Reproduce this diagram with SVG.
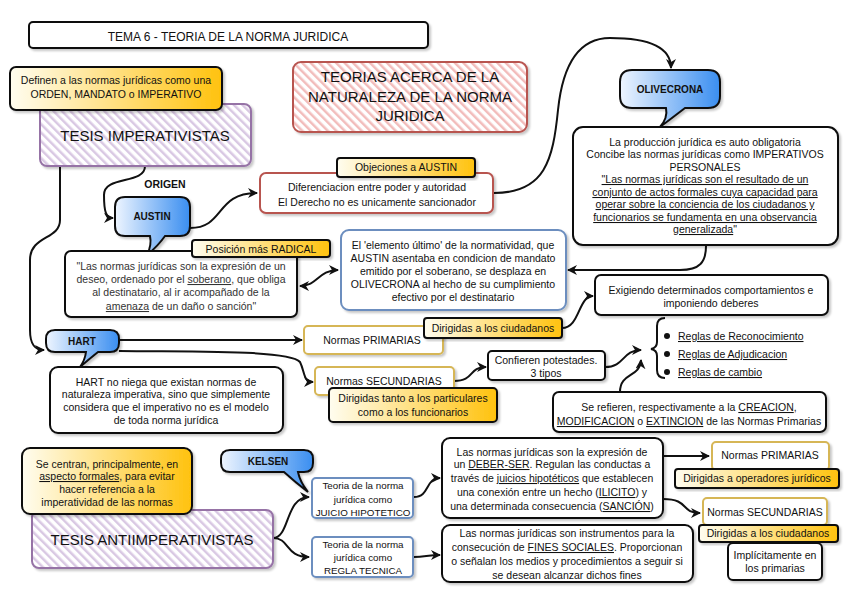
<svg xmlns="http://www.w3.org/2000/svg" width="848" height="602" viewBox="0 0 848 602">
<defs>
<style>
.t{font-family:"Liberation Sans",Arial,sans-serif;font-size:10.5px;fill:#111;text-anchor:middle}
.ts{font-family:"Liberation Sans",Arial,sans-serif;font-size:9.8px;fill:#111;text-anchor:middle}
.tb{font-family:"Liberation Sans",Arial,sans-serif;font-size:10px;font-weight:bold;fill:#111;text-anchor:middle}
.big{font-family:"Liberation Sans",Arial,sans-serif;font-size:15px;fill:#111;text-anchor:middle}
.box{fill:#fff;stroke:#111;stroke-width:2}
.gold{fill:#fff;stroke:#d6b656;stroke-width:2}
.blue{fill:#fff;stroke:#6c8ebf;stroke-width:2}
.red{fill:#fff;stroke:#b85450;stroke-width:2}
.note{fill:url(#yg);stroke:#111;stroke-width:2}
.call{fill:url(#bg);stroke:#111;stroke-width:2}
.conn{fill:none;stroke:#111;stroke-width:2}
.u{text-decoration:underline}
</style>
<linearGradient id="yg" x1="0" y1="0" x2="1" y2="0"><stop offset="0" stop-color="#fffdf0"/><stop offset="1" stop-color="#ffc20e"/></linearGradient>
<linearGradient id="bg" x1="0" y1="0" x2="1" y2="0"><stop offset="0" stop-color="#eef5ff"/><stop offset="1" stop-color="#3a8ef0"/></linearGradient>
<pattern id="hp" width="6" height="6" patternUnits="userSpaceOnUse" patternTransform="rotate(-45)"><rect width="6" height="6" fill="#fff"/><rect x="0" y="0" width="2.5" height="6" fill="#d9c8e3"/></pattern>
<pattern id="hr" width="6" height="6" patternUnits="userSpaceOnUse" patternTransform="rotate(-45)"><rect width="6" height="6" fill="#fff"/><rect x="0" y="0" width="2.5" height="6" fill="#f2bcbb"/></pattern>
<filter id="sh" x="-5%" y="-5%" width="115%" height="125%"><feDropShadow dx="2" dy="2" stdDeviation="1" flood-color="#000" flood-opacity="0.22"/></filter>
<marker id="ar" viewBox="0 0 10 10" refX="9" refY="5" markerWidth="5" markerHeight="5" orient="auto-start-reverse"><path d="M0,0 L10,5 L0,10 L3,5 z" fill="#111"/></marker>
</defs>
<rect width="848" height="602" fill="#fff"/>

<g id="connectors">
<path class="conn" d="M145 166 C145 185 104 175 104 195 C104 212 106 218 113 218" marker-end="url(#ar)"/>
<path class="conn" d="M60 166 V220 C60 240 30 235 30 260 V330 C30 345 35 350 44 350" marker-end="url(#ar)"/>
<path class="conn" d="M190 228 C225 228 215 193 257 193" marker-end="url(#ar)"/>
<path class="conn" d="M494 193 C545 193 553 160 558 110 C563 62 580 38 610 38 C645 38 671 45 671 68" marker-end="url(#ar)"/>
<path class="conn" d="M706 246 C706 262 700 270 680 270 H568" marker-end="url(#ar)"/>
<path class="conn" d="M300 286 C318 286 318 270 338 270" marker-start="url(#ar)" marker-end="url(#ar)"/>
<path class="conn" d="M119 340 H302" marker-end="url(#ar)"/>
<path class="conn" d="M119 351 C200 352 290 350 300 362 C305 372 303 382 313 382" marker-end="url(#ar)"/>
<path class="conn" d="M562 328 C580 328 578 296 593 296" marker-end="url(#ar)"/>
<path class="conn" d="M454 381 C475 381 468 367 486 367" marker-end="url(#ar)"/>
<path class="conn" d="M605 367 C625 367 622 350 641 350" marker-end="url(#ar)"/>
<path class="conn" d="M620 392 C620 372 640 378 641 360" marker-end="url(#ar)"/>
<path class="conn" d="M665 318 Q657 318 657 326 V342 Q657 348 651 349 Q657 350 657 356 V370 Q657 378 665 378"/>
<path class="conn" d="M273 538 C290 538 285 497 309 497" marker-end="url(#ar)"/>
<path class="conn" d="M273 538 C290 538 285 557 309 557" marker-end="url(#ar)"/>
<path class="conn" d="M414 497 C430 497 425 478 440 478" marker-end="url(#ar)"/>
<path class="conn" d="M414 557 C425 557 428 555 440 555" marker-end="url(#ar)"/>
<path class="conn" d="M663 456 H709" marker-end="url(#ar)"/>
<path class="conn" d="M663 499 C690 499 680 513 700 513" marker-end="url(#ar)"/>
</g>

<g id="title"><rect class="box" x="29" y="22" width="399" height="26" rx="4" filter="url(#sh)"/><text class="t" x="228" y="41" style="font-size:12px">TEMA 6 - TEORIA DE LA NORMA JURIDICA</text></g>

<g id="tesis-imp"><rect x="40" y="104" width="211" height="62" rx="7" fill="url(#hp)" stroke="#9673a6" stroke-width="2" filter="url(#sh)"/><text class="big" x="145" y="141">TESIS IMPERATIVISTAS</text></g>

<g id="definen"><rect class="note" x="10" y="67" width="212" height="43" rx="6" filter="url(#sh)"/><text class="t" x="116" y="84">Definen a las normas jurídicas como una</text><text class="t" x="116" y="98">ORDEN, MANDATO o IMPERATIVO</text></g>

<g id="teorias"><rect x="293" y="62" width="234" height="70" rx="8" fill="url(#hr)" stroke="#b85450" stroke-width="2" filter="url(#sh)"/><text class="big" x="410" y="82">TEORIAS ACERCA DE LA</text><text class="big" x="410" y="102">NATURALEZA DE LA NORMA</text><text class="big" x="410" y="121">JURIDICA</text></g>

<g id="origen"><text class="tb" x="165" y="188" style="font-size:10.5px">ORIGEN</text></g>

<g id="austin"><path class="call" d="M125 197 H180 Q190 197 190 207 V226 Q190 236 180 236 H165 Q158 246 147 255 Q152 245 150 236 H125 Q115 236 115 226 V207 Q115 197 125 197 Z" filter="url(#sh)"/><text class="tb" x="152" y="220">AUSTIN</text></g>

<g id="austin-quote"><rect class="box" x="65" y="251" width="232" height="66" rx="6" filter="url(#sh)"/>
<text class="t" x="181" y="270" style="fill:#333">"Las normas jurídicas son la expresión de un</text>
<text class="t" x="181" y="283" style="fill:#333">deseo, ordenado por el <tspan class="u">soberano</tspan>, que obliga</text>
<text class="t" x="181" y="296" style="fill:#333">al destinatario, al ir acompañado de la</text>
<text class="t" x="181" y="310" style="fill:#333"><tspan class="u">amenaza</tspan> de un daño o sanción"</text></g>

<g id="posicion"><rect class="note" x="192" y="240" width="138" height="17" rx="3" filter="url(#sh)"/><text class="t" x="261" y="253">Posición más RADICAL</text></g>

<g id="diferenciacion"><rect class="red" x="260" y="173" width="233" height="40" rx="6" filter="url(#sh)"/><text class="t" x="377" y="191">Diferenciacion entre poder y autoridad</text><text class="t" x="377" y="206">El Derecho no es unicamente sancionador</text></g>

<g id="objeciones"><rect class="note" x="337" y="158" width="138" height="19" rx="3" filter="url(#sh)"/><text class="t" x="406" y="171">Objeciones a AUSTIN</text></g>

<g id="olivecrona"><path class="call" d="M632 70 H708 Q720 70 720 82 V96 Q720 108 708 108 H685 Q672 118 660 127 Q668 118 666 108 H632 Q620 108 620 96 V82 Q620 70 632 70 Z" filter="url(#sh)"/><text class="tb" x="670" y="93">OLIVECRONA</text></g>

<g id="olivecrona-text"><rect class="box" x="573" y="127" width="265" height="118" rx="10" filter="url(#sh)"/>
<text class="t" x="705" y="146">La producción jurídica es auto obligatoria</text>
<text class="t" x="705" y="158">Concibe las normas jurídicas como IMPERATIVOS</text>
<text class="t" x="705" y="171">PERSONALES</text>
<text class="t u" x="705" y="183">"Las normas jurídicas son el resultado de un</text>
<text class="t u" x="705" y="196">conjunto de actos formales cuya capacidad para</text>
<text class="t u" x="705" y="208">operar sobre la conciencia de los ciudadanos y</text>
<text class="t u" x="705" y="221">funcionarios se fundamenta en una observancia</text>
<text class="t" x="705" y="233"><tspan class="u">generalizada</tspan>"</text></g>

<g id="elemento"><rect class="blue" x="341" y="230" width="225" height="80" rx="8" filter="url(#sh)"/>
<text class="t" x="453" y="249">El 'elemento último' de la normatividad, que</text>
<text class="t" x="453" y="262">AUSTIN asentaba en condicion de mandato</text>
<text class="t" x="453" y="275">emitido por el soberano, se desplaza en</text>
<text class="t" x="453" y="288">OLIVECRONA al hecho de su cumplimiento</text>
<text class="t" x="453" y="301">efectivo por el destinatario</text></g>

<g id="hart"><path class="call" d="M55 330 H110 Q119 330 119 339 V343 Q119 352 110 352 H98 Q88 360 80 367 Q85 360 86 352 H55 Q46 352 46 343 V339 Q46 330 55 330 Z" filter="url(#sh)"/><text class="tb" x="82" y="345">HART</text></g>

<g id="hart-text"><rect class="box" x="50" y="367" width="233" height="66" rx="8" filter="url(#sh)"/>
<text class="t" x="166" y="386">HART no niega que existan normas de</text>
<text class="t" x="166" y="398">naturaleza imperativa, sino que simplemente</text>
<text class="t" x="166" y="411">considera que el imperativo no es el modelo</text>
<text class="t" x="166" y="424">de toda norma jurídica</text></g>

<g id="primarias"><rect class="gold" x="304" y="326" width="139" height="28" rx="4" filter="url(#sh)"/><text class="t" x="372" y="344">Normas PRIMARIAS</text></g>
<g id="dir-ciudadanos"><rect class="note" x="424" y="318" width="138" height="20" rx="3" filter="url(#sh)"/><text class="t" x="493" y="332">Dirigidas a los ciudadanos</text></g>
<g id="exigiendo"><rect class="box" x="595" y="275" width="233" height="40" rx="6" filter="url(#sh)"/><text class="t" x="711" y="294">Exigiendo determinados comportamientos e</text><text class="t" x="711" y="307">imponiendo deberes</text></g>

<g id="secundarias"><rect class="gold" x="315" y="367" width="139" height="28" rx="4" filter="url(#sh)"/><text class="t" x="384" y="385">Normas SECUNDARIAS</text></g>
<g id="dir-tanto"><rect class="note" x="329" y="388" width="168" height="34" rx="4" filter="url(#sh)"/><text class="t" x="413" y="402">Dirigidas tanto a los particulares</text><text class="t" x="413" y="416">como a los funcionarios</text></g>
<g id="confieren"><rect class="box" x="488" y="351" width="117" height="29" rx="4" filter="url(#sh)"/><text class="t" x="546" y="364">Confieren potestades.</text><text class="t" x="546" y="377">3 tipos</text></g>

<g id="reglas">
<circle cx="667" cy="336" r="3" fill="#111"/><circle cx="667" cy="354" r="3" fill="#111"/><circle cx="667" cy="372" r="3" fill="#111"/>
<text class="t u" x="678" y="340" style="text-anchor:start">Reglas de Reconocimiento</text>
<text class="t u" x="678" y="358" style="text-anchor:start">Reglas de Adjudicacion</text>
<text class="t u" x="678" y="376" style="text-anchor:start">Reglas de cambio</text></g>

<g id="se-refieren"><rect class="box" x="553" y="392" width="273" height="40" rx="6" filter="url(#sh)"/><text class="t" x="689" y="411">Se refieren, respectivamente a la <tspan class="u">CREACION</tspan>,</text><text class="t" x="689" y="425"><tspan class="u">MODIFICACION</tspan> o <tspan class="u">EXTINCION</tspan> de las Normas Primarias</text></g>

<g id="tesis-anti"><rect x="32" y="510" width="241" height="58" rx="7" fill="url(#hp)" stroke="#9673a6" stroke-width="2" filter="url(#sh)"/><text class="big" x="152" y="545">TESIS ANTIIMPERATIVISTAS</text></g>

<g id="se-centran"><rect class="note" x="22" y="448" width="170" height="66" rx="8" filter="url(#sh)"/>
<text class="t" x="107" y="468">Se centran, principalmente, en</text>
<text class="t" x="107" y="480"><tspan class="u">aspecto formales</tspan>, para evitar</text>
<text class="t" x="107" y="493">hacer referencia a la</text>
<text class="t" x="107" y="506">imperatividad de las normas</text></g>

<g id="kelsen"><path class="call" d="M230 450 H304 Q313 450 313 459 V463 Q313 472 304 472 H298 Q300 482 308 492 Q295 482 284 472 H230 Q221 472 221 463 V459 Q221 450 230 450 Z" filter="url(#sh)"/><text class="tb" x="268" y="465">KELSEN</text></g>

<g id="juicio"><rect class="blue" x="312" y="478" width="101" height="40" rx="4" filter="url(#sh)"/><text class="ts" x="363" y="489">Teoria de la norma</text><text class="ts" x="363" y="503">jurídica como</text><text class="ts" x="363" y="516">JUICIO HIPOTETICO</text></g>
<g id="regla"><rect class="blue" x="312" y="537" width="101" height="40" rx="4" filter="url(#sh)"/><text class="ts" x="363" y="548">Teoria de la norma</text><text class="ts" x="363" y="561">jurídica como</text><text class="ts" x="363" y="574">REGLA TECNICA</text></g>

<g id="deber"><rect class="box" x="442" y="438" width="221" height="80" rx="8" filter="url(#sh)"/>
<text class="t" x="552" y="456">Las normas jurídicas son la expresión de</text>
<text class="t" x="552" y="468">un <tspan class="u">DEBER-SER</tspan>. Regulan las conductas a</text>
<text class="t" x="552" y="482">través de <tspan class="u">juicios hipotéticos</tspan> que establecen</text>
<text class="t" x="552" y="496">una conexión entre un hecho (<tspan class="u">ILICITO</tspan>) y</text>
<text class="t" x="552" y="510">una determinada consecuencia (<tspan class="u">SANCIÓN</tspan>)</text></g>

<g id="fines"><rect class="box" x="442" y="525" width="251" height="57" rx="8" filter="url(#sh)"/>
<text class="t" x="567" y="537">Las normas jurídicas son instrumentos para la</text>
<text class="t" x="567" y="551">consecución de <tspan class="u">FINES SOCIALES</tspan>. Proporcionan</text>
<text class="t" x="567" y="565">o señalan los medios y procedimientos a seguir si</text>
<text class="t" x="567" y="579">se desean alcanzar dichos fines</text></g>

<g id="primarias-b"><rect class="gold" x="712" y="442" width="117" height="28" rx="4" filter="url(#sh)"/><text class="t" x="770" y="459">Normas PRIMARIAS</text></g>
<g id="dir-operadores"><rect class="note" x="675" y="469" width="164" height="19" rx="3" filter="url(#sh)"/><text class="t" x="757" y="482">Dirigidas a operadores jurídicos</text></g>
<g id="secundarias-b"><rect class="gold" x="703" y="498" width="124" height="27" rx="4" filter="url(#sh)"/><text class="t" x="765" y="516">Normas SECUNDARIAS</text></g>
<g id="dir-ciudadanos-b"><rect class="note" x="699" y="525" width="139" height="17" rx="3" filter="url(#sh)"/><text class="t" x="768" y="537">Dirigidas a los ciudadanos</text></g>
<g id="implicitamente"><rect class="box" x="728" y="543" width="94" height="37" rx="5" filter="url(#sh)"/><text class="t" x="775" y="559">Implícitamente en</text><text class="t" x="775" y="572">los primarias</text></g>
</svg>
